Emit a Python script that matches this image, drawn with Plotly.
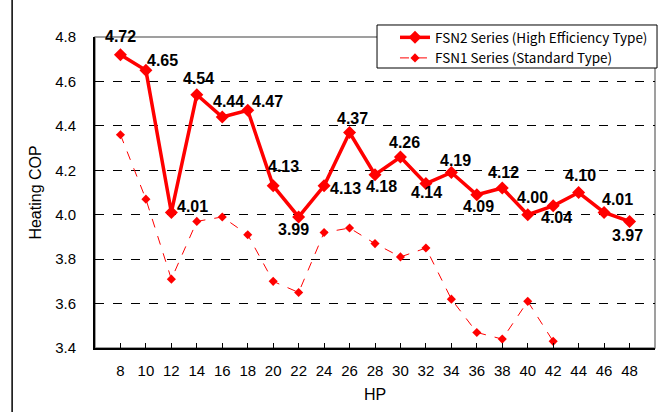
import plotly.graph_objects as go

hp = ["8", "10", "12", "14", "16", "18", "20", "22", "24", "26", "28",
      "30", "32", "34", "36", "38", "40", "42", "44", "46", "48"]
fsn2 = [4.72, 4.65, 4.01, 4.54, 4.44, 4.47, 4.13, 3.99, 4.13, 4.37, 4.18,
        4.26, 4.14, 4.19, 4.09, 4.12, 4.00, 4.04, 4.10, 4.01, 3.97]
fsn1 = [4.36, 4.07, 3.71, 3.97, 3.99, 3.91, 3.70, 3.65, 3.92, 3.94, 3.87,
        3.81, 3.85, 3.62, 3.47, 3.44, 3.61, 3.43, None, None, None]
# label offsets (pixels) from each FSN2 point
label_dx = [0, 17, 21, 2, 6, 20, 10, -5, 21, 3, 6, 4, 1, 4, 2, 1, 5, 3, 2, 13, -2]
label_dy = [18, 10, 6, 16, 15, 9, 19, -13, -3, 14, -12, 14, -9, 12, -12, 16, 17, -12, 17, 13, -14]

RED = "#FF0000"
fig = go.Figure()
fig.add_trace(go.Scatter(
    x=hp, y=fsn2, name="FSN2 Series (High Efficiency Type)",
    mode="lines+markers",
    line=dict(color=RED, width=3.5),
    marker=dict(symbol="diamond", size=10, color=RED),
))
fig.add_trace(go.Scatter(
    x=hp, y=fsn1, name="FSN1 Series (Standard Type)",
    mode="lines+markers",
    line=dict(color=RED, width=1, dash="dash"),
    marker=dict(symbol="diamond", size=7, color=RED),
))

annotations = []
for i, (v, dx, dy) in enumerate(zip(fsn2, label_dx, label_dy)):
    annotations.append(dict(
        x=i, y=v, xref="x", yref="y", text=f"{v:.2f}", showarrow=False,
        xshift=dx, yshift=dy,
        font=dict(family="Liberation Sans", size=16, color="black", weight="bold"),
    ))

fig.update_layout(
    width=666, height=412,
    margin=dict(l=95, r=11, t=37, b=64, autoexpand=False),
    paper_bgcolor="white", plot_bgcolor="white",
    font=dict(family="Liberation Sans", size=15, color="black"),
    showlegend=True,
    legend=dict(x=0.5357, y=1.048, xanchor="left", yanchor="top",
                bgcolor="rgba(0,0,0,0)", borderwidth=0,
                font=dict(family="Noto Sans CJK JP", size=13.5),
                tracegroupgap=0),
    annotations=annotations,
    shapes=[
        dict(type="rect", xref="paper", yref="paper", x0=0, x1=1, y0=0, y1=1,
             line=dict(color="#808080", width=1.5), layer="between"),
        dict(type="line", xref="paper", yref="paper", x0=-0.148, x1=-0.148,
             y0=-0.3, y1=1.3, line=dict(color="black", width=1.5)),
        dict(type="rect", xref="paper", yref="paper", x0=0.5036, x1=1.0036,
             y0=0.9003, y1=1.0386, fillcolor="white",
             line=dict(color="black", width=1), layer="above"),
    ],
)
fig.update_xaxes(
    type="category", range=[-1, len(hp)],
    showline=True, linecolor="black", linewidth=2,
    ticks="inside", ticklen=5, tickcolor="black", tickwidth=1,
    showgrid=False, tickfont=dict(size=15), ticklabelstandoff=8,
    automargin=False,
    title=dict(text="HP", font=dict(size=16), standoff=11),
)
fig.update_yaxes(
    range=[3.4, 4.8], dtick=0.2, tickformat=".1f",
    showline=True, linecolor="black", linewidth=2,
    showgrid=True, gridcolor="black", gridwidth=1, griddash="dash",
    ticks="", tickfont=dict(size=15), ticklabelstandoff=14,
    zeroline=False, automargin=False,
    title=dict(text="Heating COP", font=dict(size=16), standoff=10),
)

fig.write_html("out.html", config={"displayModeBar": False},
               post_script="document.body.style.margin='0px';")
